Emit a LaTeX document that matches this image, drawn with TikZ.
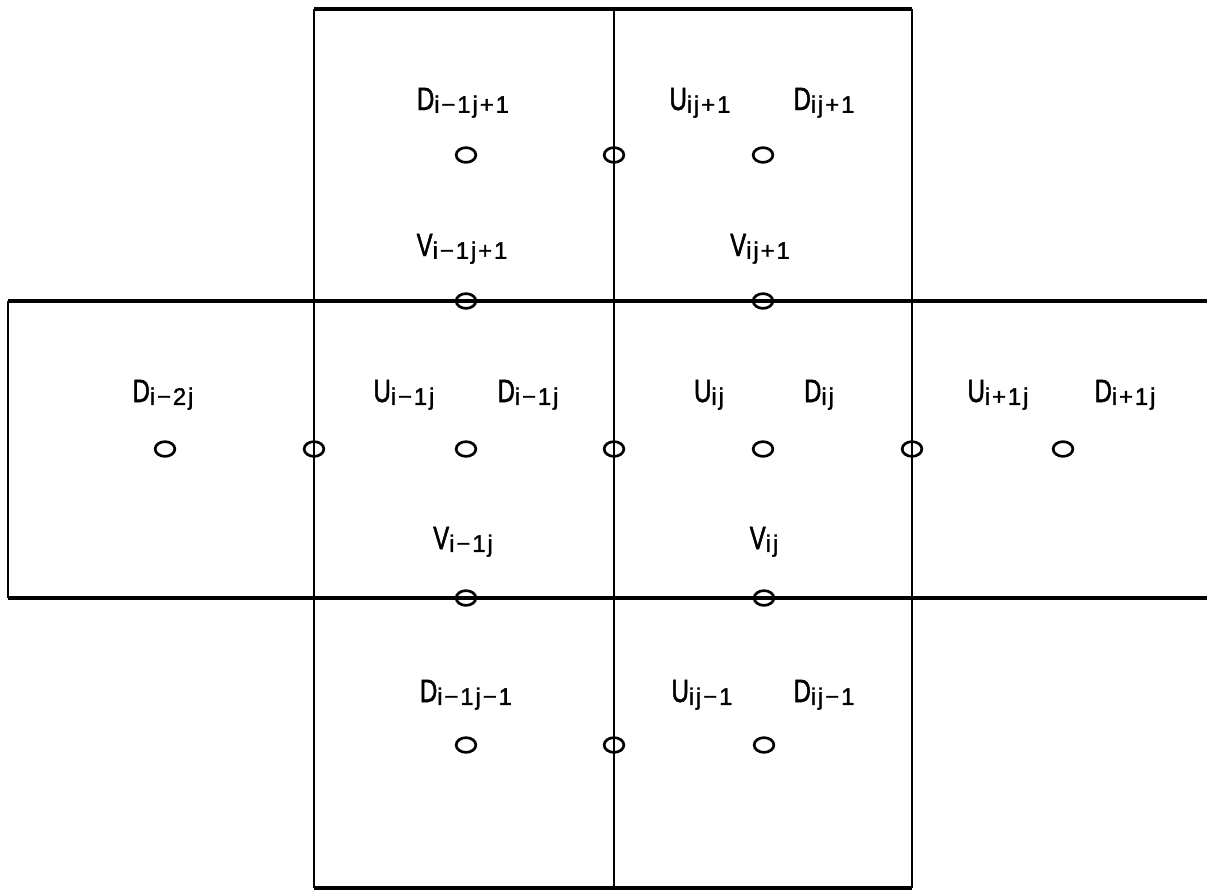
\documentclass[tikz,border=0pt]{standalone}
\usepackage{fontspec}
\setmainfont{Liberation Sans}
\newfontfamily\capfont[FakeStretch=0.74,FakeBold=1.5]{Liberation Sans}
\newfontfamily\subfont[LetterSpace=8,FakeBold=1.5]{Liberation Sans}
\usetikzlibrary{shapes.geometric}
\newcommand{\gv}[2]{{\fontsize{23}{25}\capfont #1}\raisebox{-2pt}{\fontsize{17}{19}\subfont #2}}

\begin{document}
\begin{tikzpicture}[x=0.025cm,y=-0.025cm,
    hline/.style={line width=2.3pt},
    vline/.style={line width=1.8pt},
    gpt/.style={ellipse,draw,line width=1.9pt,minimum width=14pt,minimum height=10.5pt,inner sep=0pt},
    lab/.style={anchor=base,inner sep=0pt}]
\useasboundingbox (0,0) rectangle (1207,895);

% grid of cells
\draw[hline] (314,9) -- (912,9);
\draw[hline] (8,301) -- (1207,301);
\draw[hline] (8,598) -- (1207,598);
\draw[hline] (314,888) -- (912,888);
\draw[vline] (8,301) -- (8,598);
\draw[vline] (314,9) -- (314,888);
\draw[vline] (614,9) -- (614,888);
\draw[vline] (912,9) -- (912,888);

% cell centres
\node[gpt] (c1) at (466,155) {};
\node[gpt] (c2) at (763,155) {};
\node[gpt] (c3) at (165,449) {};
\node[gpt] (c4) at (466,449) {};
\node[gpt] (c5) at (763,449) {};
\node[gpt] (c6) at (1063,449) {};
\node[gpt] (c7) at (466,745) {};
\node[gpt] (c8) at (764,745) {};

% u faces
\node[gpt] (u1) at (614,155) {};
\node[gpt] (u2) at (314,449) {};
\node[gpt] (u3) at (614,449) {};
\node[gpt] (u4) at (912,449) {};
\node[gpt] (u5) at (614,745) {};

% v faces
\node[gpt] (v1) at (466,301) {};
\node[gpt] (v2) at (763,301) {};
\node[gpt] (v3) at (466,598) {};
\node[gpt] (v4) at (764,598) {};

% labels
\node[lab] (lD1) at (463,110) {\gv{D}{i−1j+1}};
\node[lab] (lU2) at (700,110) {\gv{U}{ij+1}};
\node[lab] (lD2) at (824,110) {\gv{D}{ij+1}};
\node[lab] (lV1) at (462,256) {\gv{V}{i−1j+1}};
\node[lab] (lV2) at (760,256) {\gv{V}{ij+1}};
\node[lab] (lD3) at (163,402) {\gv{D}{i−2j}};
\node[lab] (lU4) at (404,402) {\gv{U}{i−1j}};
\node[lab] (lD4) at (528,402) {\gv{D}{i−1j}};
\node[lab] (lU5) at (709,402) {\gv{U}{ij}};
\node[lab] (lD5) at (819,402) {\gv{D}{ij}};
\node[lab] (lU6) at (998,402) {\gv{U}{i+1j}};
\node[lab] (lD6) at (1125,402) {\gv{D}{i+1j}};
\node[lab] (lV3) at (463,549) {\gv{V}{i−1j}};
\node[lab] (lV4) at (764,549) {\gv{V}{ij}};
\node[lab] (lD7) at (466,702) {\gv{D}{i−1j−1}};
\node[lab] (lU8) at (702,702) {\gv{U}{ij−1}};
\node[lab] (lD8) at (824,702) {\gv{D}{ij−1}};
\end{tikzpicture}
\end{document}
